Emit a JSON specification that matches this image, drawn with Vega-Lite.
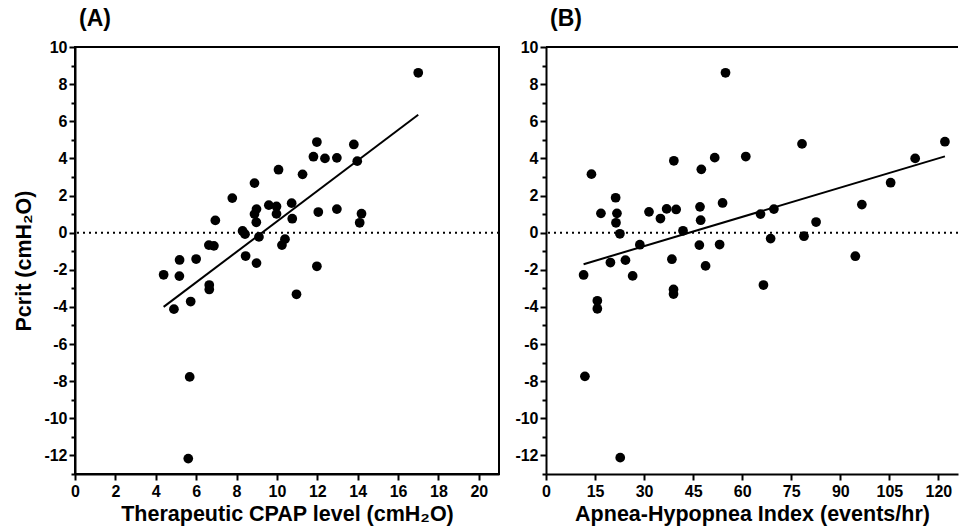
{
  "$schema": "https://vega.github.io/schema/vega-lite/v6.json",
  "background": "white",
  "padding": {"left": 12, "top": 7, "right": 0, "bottom": 0},
  "config": {
    "view": {"stroke": "black", "strokeWidth": 2},
    "font": "Liberation Sans",
    "axis": {"domainColor": "black", "domainWidth": 2, "tickColor": "black", "tickWidth": 2, "labelFont": "Liberation Sans", "labelFontWeight": "bold", "labelFontSize": 16, "labelColor": "black", "labelPadding": 2, "labelFlush": false, "labelOverlap": false, "titleFont": "Liberation Sans", "titleFontWeight": "bold", "titleFontSize": 21.5, "titleColor": "black", "grid": false},
    "title": {"font": "Liberation Sans", "fontSize": 23, "fontWeight": "bold", "anchor": "start", "color": "black"},
    "concat": {"spacing": 13}
  },
  "datasets": {
    "cpap": [
      {"cpap": 17.0, "pcrit": 8.61}, {"cpap": 11.98, "pcrit": 4.88}, {"cpap": 13.81, "pcrit": 4.75}, {"cpap": 11.81, "pcrit": 4.09},
      {"cpap": 12.38, "pcrit": 4.0}, {"cpap": 12.97, "pcrit": 4.03}, {"cpap": 13.98, "pcrit": 3.85}, {"cpap": 10.08, "pcrit": 3.39},
      {"cpap": 11.27, "pcrit": 3.14}, {"cpap": 8.89, "pcrit": 2.67}, {"cpap": 7.79, "pcrit": 1.86}, {"cpap": 9.6, "pcrit": 1.48},
      {"cpap": 9.98, "pcrit": 1.41}, {"cpap": 10.73, "pcrit": 1.59}, {"cpap": 8.99, "pcrit": 1.27}, {"cpap": 8.89, "pcrit": 1.0},
      {"cpap": 9.98, "pcrit": 1.01}, {"cpap": 12.05, "pcrit": 1.11}, {"cpap": 12.97, "pcrit": 1.27}, {"cpap": 14.19, "pcrit": 1.02},
      {"cpap": 14.1, "pcrit": 0.53}, {"cpap": 6.95, "pcrit": 0.66}, {"cpap": 8.98, "pcrit": 0.56}, {"cpap": 10.76, "pcrit": 0.75},
      {"cpap": 8.3, "pcrit": 0.09}, {"cpap": 8.42, "pcrit": -0.08}, {"cpap": 9.11, "pcrit": -0.23}, {"cpap": 10.4, "pcrit": -0.35},
      {"cpap": 10.25, "pcrit": -0.67}, {"cpap": 6.63, "pcrit": -0.67}, {"cpap": 6.88, "pcrit": -0.71}, {"cpap": 5.18, "pcrit": -1.47},
      {"cpap": 6.0, "pcrit": -1.42}, {"cpap": 8.45, "pcrit": -1.26}, {"cpap": 8.99, "pcrit": -1.64}, {"cpap": 4.39, "pcrit": -2.27},
      {"cpap": 5.17, "pcrit": -2.34}, {"cpap": 11.98, "pcrit": -1.81}, {"cpap": 6.65, "pcrit": -2.82}, {"cpap": 6.65, "pcrit": -3.06},
      {"cpap": 5.73, "pcrit": -3.71}, {"cpap": 4.9, "pcrit": -4.12}, {"cpap": 10.97, "pcrit": -3.32}, {"cpap": 5.68, "pcrit": -7.77},
      {"cpap": 5.61, "pcrit": -12.17}
    ],
    "ahi": [
      {"ahi": 54.9, "pcrit": 8.61}, {"ahi": 122.0, "pcrit": 4.9}, {"ahi": 78.3, "pcrit": 4.78}, {"ahi": 112.9, "pcrit": 4.0},
      {"ahi": 61.1, "pcrit": 4.1}, {"ahi": 51.6, "pcrit": 4.04}, {"ahi": 39.1, "pcrit": 3.87}, {"ahi": 47.5, "pcrit": 3.41},
      {"ahi": 13.9, "pcrit": 3.15}, {"ahi": 105.4, "pcrit": 2.69}, {"ahi": 96.6, "pcrit": 1.51}, {"ahi": 21.3, "pcrit": 1.88},
      {"ahi": 54.0, "pcrit": 1.6}, {"ahi": 47.1, "pcrit": 1.39}, {"ahi": 16.8, "pcrit": 1.04}, {"ahi": 21.7, "pcrit": 1.04},
      {"ahi": 31.5, "pcrit": 1.12}, {"ahi": 36.9, "pcrit": 1.28}, {"ahi": 39.8, "pcrit": 1.25}, {"ahi": 35.0, "pcrit": 0.76},
      {"ahi": 47.3, "pcrit": 0.67}, {"ahi": 21.4, "pcrit": 0.53}, {"ahi": 65.6, "pcrit": 1.0}, {"ahi": 69.7, "pcrit": 1.27},
      {"ahi": 82.6, "pcrit": 0.57}, {"ahi": 22.6, "pcrit": -0.06}, {"ahi": 41.9, "pcrit": 0.1}, {"ahi": 68.7, "pcrit": -0.32},
      {"ahi": 78.9, "pcrit": -0.19}, {"ahi": 28.7, "pcrit": -0.65}, {"ahi": 46.9, "pcrit": -0.67}, {"ahi": 53.1, "pcrit": -0.64},
      {"ahi": 19.7, "pcrit": -1.61}, {"ahi": 24.3, "pcrit": -1.48}, {"ahi": 38.5, "pcrit": -1.43}, {"ahi": 48.8, "pcrit": -1.79},
      {"ahi": 94.6, "pcrit": -1.27}, {"ahi": 11.5, "pcrit": -2.28}, {"ahi": 26.5, "pcrit": -2.33}, {"ahi": 66.5, "pcrit": -2.82},
      {"ahi": 39.0, "pcrit": -3.06}, {"ahi": 39.0, "pcrit": -3.31}, {"ahi": 15.7, "pcrit": -3.67}, {"ahi": 15.7, "pcrit": -4.1},
      {"ahi": 11.9, "pcrit": -7.74}, {"ahi": 22.7, "pcrit": -12.12}
    ],
    "fitA": [{"cpap": 4.39, "pcrit": -4.0}, {"cpap": 17.0, "pcrit": 6.35}],
    "fitB": [{"ahi": 11.5, "pcrit": -1.7}, {"ahi": 122.0, "pcrit": 4.11}],
    "zero": [{"pcrit": 0}],
    "top": [{"pcrit": 10}]
  },
  "hconcat": [
    {
      "width": 424,
      "height": 427,
      "title": {"text": "(A)", "frame": "group", "offset": 8, "dx": 4},
      "encoding": {
        "y": {"field": "pcrit", "type": "quantitative", "scale": {"domain": [-13, 10], "nice": false, "zero": false},
          "axis": {"title": "Pcrit (cmH₂O)", "values": [-13,-12,-11,-10,-9,-8,-7,-6,-5,-4,-3,-2,-1,0,1,2,3,4,5,6,7,8,9,10],
            "labelExpr": "abs(datum.value) % 2 == 0 ? '' + datum.value : ''",
            "tickSize": {"condition": {"test": "abs(datum.value) % 2 == 0", "value": 6}, "value": 4},
            "titlePadding": 8}}
      },
      "layer": [
        {
          "data": {"name": "zero"},
          "mark": {"type": "rule", "color": "black", "strokeWidth": 2, "strokeDash": [2, 4]}
        },
        {
          "data": {"name": "fitA"},
          "mark": {"type": "line", "color": "black", "strokeWidth": 2},
          "encoding": {
            "x": {"field": "cpap", "type": "quantitative", "scale": {"domain": [0, 21], "nice": false, "zero": false},
              "axis": {"title": "Therapeutic CPAP level (cmH₂O)", "values": [0,1,2,3,4,5,6,7,8,9,10,11,12,13,14,15,16,17,18,19,20,21],
                "labelExpr": "datum.value % 2 == 0 && datum.value <= 20 ? datum.label : ''",
                "tickSize": {"condition": {"test": "datum.value % 2 == 0", "value": 6}, "value": 4},
                "labelPadding": 3, "titlePadding": 4}}
          }
        },
        {
          "data": {"name": "cpap"},
          "mark": {"type": "point", "filled": true, "size": 95, "color": "black", "opacity": 1},
          "encoding": {
            "x": {"field": "cpap", "type": "quantitative"}
          }
        }
      ]
    },
    {
      "width": 412,
      "height": 427,
      "view": {"stroke": null},
      "title": {"text": "(B)", "frame": "group", "offset": 8, "dx": 4},
      "encoding": {
        "y": {"field": "pcrit", "type": "quantitative", "scale": {"domain": [-13, 10], "nice": false, "zero": false},
          "axis": {"title": null, "values": [-13,-12,-11,-10,-9,-8,-7,-6,-5,-4,-3,-2,-1,0,1,2,3,4,5,6,7,8,9,10],
            "labelExpr": "abs(datum.value) % 2 == 0 ? '' + datum.value : ''",
            "tickSize": {"condition": {"test": "abs(datum.value) % 2 == 0", "value": 6}, "value": 4}}}
      },
      "layer": [
        {
          "data": {"name": "top"},
          "mark": {"type": "rule", "color": "black", "strokeWidth": 2}
        },
        {
          "data": {"name": "zero"},
          "mark": {"type": "rule", "color": "black", "strokeWidth": 2, "strokeDash": [2, 4]}
        },
        {
          "data": {"name": "fitB"},
          "mark": {"type": "line", "color": "black", "strokeWidth": 2},
          "encoding": {
            "x": {"field": "ahi", "type": "quantitative", "scale": {"domain": [0, 126], "nice": false, "zero": false},
              "axis": {"title": "Apnea-Hypopnea Index (events/hr)", "values": [0,7.5,15,22.5,30,37.5,45,52.5,60,67.5,75,82.5,90,97.5,105,112.5,120],
                "labelExpr": "datum.value % 15 == 0 ? datum.label : ''",
                "tickSize": {"condition": {"test": "datum.value % 15 == 0", "value": 6}, "value": 4},
                "labelPadding": 3, "titlePadding": 4}}
          }
        },
        {
          "data": {"name": "ahi"},
          "mark": {"type": "point", "filled": true, "size": 95, "color": "black", "opacity": 1},
          "encoding": {
            "x": {"field": "ahi", "type": "quantitative"}
          }
        }
      ]
    }
  ]
}
